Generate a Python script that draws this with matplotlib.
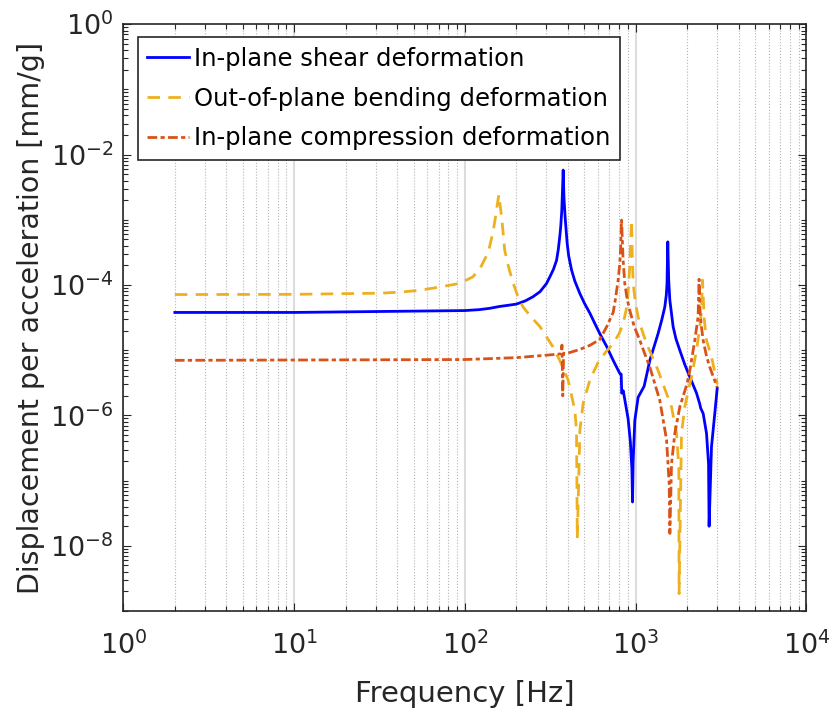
import numpy as np
import matplotlib.pyplot as plt
from matplotlib.ticker import LogLocator, NullFormatter

plt.rcParams['font.family'] = ['DejaVu Sans']
plt.rcParams['mathtext.default'] = 'regular'

# valeurs (Hz, mm/g)
f_shear = [2, 10, 100, 122, 140, 160, 180, 200, 225, 250, 275, 300, 314, 330, 344, 352,
           359, 364, 369, 372, 376, 380, 386, 397, 405, 421, 440, 471, 500, 539, 575, 616,
           675, 738, 807, 822, 828, 845, 902, 930, 950, 958, 966, 988, 1033, 1120, 1210, 1352,
           1420, 1480, 1510, 1525, 1541, 1560, 1584, 1656, 1720, 1812, 1940, 2074, 2270, 2372,
           2400, 2483, 2598, 2670, 2690, 2778, 2904, 3000]
d_shear = [3.8e-5, 3.8e-5, 4.06e-5, 4.2e-5, 4.4e-5, 4.7e-5, 4.9e-5, 5.1e-5, 5.7e-5, 6.6e-5,
           7.9e-5, 1.05e-4, 1.33e-4, 1.75e-4, 2.4e-4, 3.5e-4, 5.5e-4, 8.0e-4, 1.4e-3,
           2.5e-3, 5.8e-3, 2.2e-3, 1.1e-3, 4.3e-4, 2.8e-4, 1.7e-4, 1.15e-4, 7.4e-5, 5.3e-5,
           3.7e-5, 2.6e-5, 1.8e-5, 1.15e-5, 7.0e-6, 4.4e-6, 4.3e-6, 2.2e-6, 2.4e-6, 9.0e-7,
           4.0e-7, 1.5e-7, 4.7e-8, 2.0e-7, 8.4e-7, 1.9e-6, 2.8e-6, 7.0e-6, 1.8e-5, 2.9e-5,
           4.6e-5, 7.0e-5, 1.05e-4, 4.6e-4, 1.2e-4, 5.9e-5, 2.3e-5, 1.5e-5, 1.0e-5, 6.0e-6,
           3.9e-6, 2.2e-6, 1.5e-6, 1.3e-6, 1.07e-6, 5.3e-7, 1.8e-7, 2.0e-8, 3.3e-7, 1.07e-6,
           2.6e-6]

f_bend = [2, 10, 32, 42, 54, 71, 93, 111, 122, 137, 146, 150, 154, 158, 161, 164, 171, 180,
          192, 205, 219, 245, 275, 328, 359, 402, 440, 450, 455, 471, 492, 539, 602, 670, 738,
          800, 844, 880, 902, 923, 945, 955, 966, 995, 1033, 1090, 1157, 1352, 1515, 1621, 1734,
          1788, 1795, 1854, 1938, 2054, 2123, 2270, 2370, 2428, 2460, 2520, 2598, 2778, 2972,
          3000]
d_bend = [7.15e-5, 7.2e-5, 7.5e-5, 7.8e-5, 8.3e-5, 9.3e-5, 1.06e-4, 1.33e-4, 1.75e-4, 3.2e-4,
          6.5e-4, 1.0e-3, 1.6e-3, 2.44e-3, 1.6e-3, 1.11e-3, 3.4e-4, 1.9e-4, 1.05e-4, 6.5e-5,
          4.6e-5, 3.2e-5, 2.3e-5, 1.12e-5, 7.0e-6, 3.5e-6, 1.2e-6, 5.9e-7, 1.3e-8, 5.9e-7,
          1.52e-6, 3.5e-6, 6.5e-6, 9.5e-6, 1.27e-5, 1.8e-5, 2.57e-5, 4.2e-5, 7.4e-5, 1.9e-4,
          9.9e-4, 2.8e-4, 1.05e-4, 5.5e-5, 3.24e-5, 2.0e-5, 1.27e-5, 4.9e-6, 2.17e-6, 1.35e-6,
          5.3e-7, 1.6e-7, 1.85e-9, 5.3e-7, 1.35e-6, 2.74e-6, 3.9e-6, 1.0e-5, 2.2e-5, 4.1e-5,
          1.19e-4, 3.0e-5, 1.42e-5, 7.9e-6, 3.5e-6, 3.0e-6]

f_comp = [2, 100, 200, 300, 365, 370, 374, 378, 393, 471, 539, 616, 675, 738, 760, 789, 805,
          815, 826, 844, 863, 890, 923, 980, 1057, 1130, 1210, 1384, 1516, 1570, 1585, 1621,
          1694, 1812, 2000, 2074, 2218, 2319, 2350, 2380, 2420, 2483, 2600, 2715, 3000]
d_comp = [7.0e-6, 7.2e-6, 7.7e-6, 8.4e-6, 8.8e-6, 1.2e-5, 2.0e-6, 9.0e-6, 8.9e-6, 1.03e-5,
          1.19e-5, 1.46e-5, 2.28e-5, 3.8e-5, 6.0e-5, 1.19e-4, 2.0e-4, 3.4e-4, 9.9e-4, 2.4e-4,
          1.05e-4, 6.2e-5, 4.1e-5, 2.3e-5, 1.42e-5, 8.8e-6, 5.5e-6, 1.7e-6, 4.2e-7, 9.0e-8,
          1.55e-8, 1.83e-7, 5.3e-7, 1.35e-6, 3.1e-6, 4.9e-6, 1.42e-5, 3.24e-5, 1.23e-4, 4.1e-5,
          2.4e-5, 1.42e-5, 8.0e-6, 5.5e-6, 2.7e-6]

x_ticks = [1, 10, 100, 1000, 10000]
x_labels = [r'$10^{0}$', r'$10^{1}$', r'$10^{2}$', r'$10^{3}$', r'$10^{4}$']
y_ticks = [1e-8, 1e-6, 1e-4, 1e-2, 1]
y_labels = [r'$10^{-8}$', r'$10^{-6}$', r'$10^{-4}$', r'$10^{-2}$', r'$10^{0}$']

fig = plt.figure(figsize=(8.34, 7.13), dpi=100)
ax = fig.add_axes([0.148, 0.143, 0.819, 0.823])

ax.plot(f_shear, d_shear, color='#0000ff', lw=2, label='In-plane shear deformation')
ax.plot(f_bend, d_bend, color='#EDB120', lw=2, dashes=(4.5, 3),
        label='Out-of-plane bending deformation')
ax.plot(f_comp, d_comp, color='#D95319', lw=2, dashes=(3.5, 1.2, 1.5, 1.2),
        label='In-plane compression deformation')

ax.set_xscale('log')
ax.set_yscale('log')
ax.set_xlim(1, 1e4)
ax.set_ylim(1e-9, 1)

ax.set_xticks(x_ticks)
ax.set_xticklabels(x_labels)
ax.set_yticks(y_ticks)
ax.set_yticklabels(y_labels)
ax.xaxis.set_minor_locator(LogLocator(base=10, subs=np.arange(2, 10), numticks=100))
ax.yaxis.set_minor_locator(LogLocator(base=10, subs=np.arange(1, 10), numticks=100))
ax.xaxis.set_minor_formatter(NullFormatter())
ax.yaxis.set_minor_formatter(NullFormatter())

ax.set_axisbelow(True)
ax.grid(True, which='major', axis='x', color='#dcdcdc', lw=1.5, ls='-')
ax.grid(True, which='minor', axis='x', color='#b5b5b5', lw=0.8, ls=':')

ax.tick_params(which='both', direction='in', top=True, right=True, color='#262626',
               labelsize=19.5, labelcolor='#262626', width=0.8)
ax.tick_params(which='major', length=6)
ax.tick_params(which='minor', length=3.5)
ax.tick_params(axis='x', which='major', pad=15)
ax.tick_params(axis='y', which='major', pad=7)
for s in ax.spines.values():
    s.set_color('#262626')
    s.set_linewidth(1.2)

ax.set_xlabel('Frequency [Hz]', fontsize=21, color='#262626', labelpad=14)
ax.set_ylabel('Displacement per acceleration [mm/g]', fontsize=20.5, color='#262626')

leg = ax.legend(loc='upper left', bbox_to_anchor=(0.021, 0.978), fontsize=17.5, fancybox=False,
                edgecolor='#262626', framealpha=1, borderaxespad=0, handlelength=1.7,
                handletextpad=0.2, borderpad=0.4, labelspacing=0.65)
leg.get_frame().set_linewidth(1.2)

fig.savefig('out.png', dpi=100)
